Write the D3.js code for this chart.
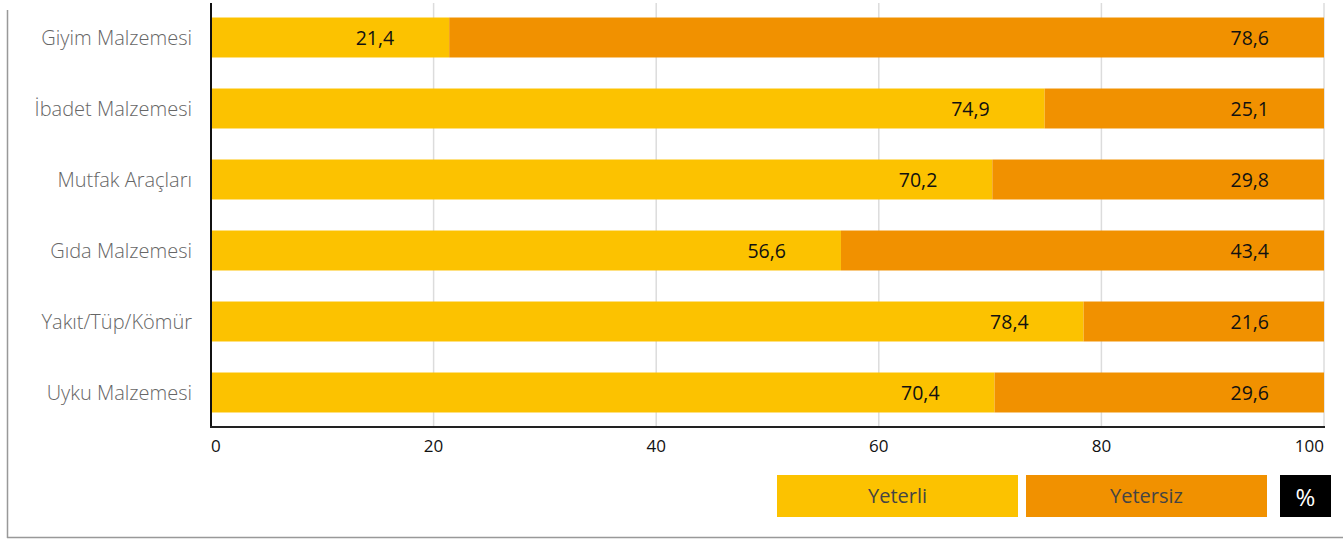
<!DOCTYPE html>
<html><head><meta charset="utf-8">
<script src="https://cdn.jsdelivr.net/npm/d3@7"></script>
<style>body{margin:0;background:#fff}svg{display:block}</style>
</head><body>
<script>
const categories = ["Giyim Malzemesi","İbadet Malzemesi","Mutfak Araçları","Gıda Malzemesi","Yakıt/Tüp/Kömür","Uyku Malzemesi"];
const yeterli = [21.4,74.9,70.2,56.6,78.4,70.4];
const yetersiz = [78.6,25.1,29.8,43.4,21.6,29.6];
const seriesNames = ["Yeterli","Yetersiz"];
const tickValues = [0,20,40,60,80,100];

const W=1343,H=540;
const colors=["#FCC200","#F19100"];
const svg=d3.select("body").append("svg").attr("width",W).attr("height",H);
const x=d3.scaleLinear().domain([0,100]).range([211,1324]);
const y=d3.scaleBand().domain(categories).range([2,428]).paddingInner(0.437).paddingOuter(0.2185);

// outer frame lines
svg.append("line").attr("x1",7.5).attr("x2",7.5).attr("y1",10).attr("y2",538).attr("stroke","#999").attr("stroke-width",1.5);
svg.append("line").attr("x1",7).attr("x2",W).attr("y1",537.5).attr("y2",537.5).attr("stroke","#999").attr("stroke-width",1.5);

// grid
svg.append("g").selectAll("line").data(tickValues.slice(1)).join("line")
  .attr("x1",d=>x(d)).attr("x2",d=>x(d)).attr("y1",3).attr("y2",427)
  .attr("stroke","#dcdcdc").attr("stroke-width",1.5);

const fmt=v=>String(v).replace(".",",");
const data=categories.map((c,i)=>({c,vals:[yeterli[i],yetersiz[i]]}));
const g=svg.append("g");
data.forEach(d=>{
  let acc=0;
  d.vals.forEach((v,k)=>{
    const x0=x(acc), x1=x(acc+v);
    g.append("rect").attr("x",x0).attr("y",y(d.c)).attr("width",x1-x0).attr("height",y.bandwidth()).attr("fill",colors[k]);
    g.append("text").attr("x",x1-55).attr("y",y(d.c)+y.bandwidth()/2).attr("dy","0.36em")
      .attr("text-anchor","end").attr("font-family","'Open Sans',sans-serif").attr("font-size",19.5).attr("fill","#111").text(fmt(v));
    acc+=v;
  });
});

// category labels
svg.append("g").selectAll("text").data(categories).join("text")
  .attr("x",192).attr("y",d=>y(d)+y.bandwidth()/2).attr("dy","0.36em").attr("text-anchor","end")
  .attr("font-family","'Open Sans',sans-serif").attr("font-weight",300).attr("font-size",20).attr("fill","#666").text(d=>d);

// axes lines
svg.append("line").attr("x1",211).attr("x2",211).attr("y1",3).attr("y2",428).attr("stroke","#111").attr("stroke-width",2);
svg.append("line").attr("x1",210).attr("x2",1325).attr("y1",427).attr("y2",427).attr("stroke","#222").attr("stroke-width",2);

// tick labels
svg.append("g").selectAll("text").data(tickValues).join("text")
  .attr("x",d=>x(d)).attr("y",446).attr("dy","0.36em")
  .attr("text-anchor",(d,i)=>i===0?"start":(i===tickValues.length-1?"end":"middle"))
  .attr("font-family","'Open Sans',sans-serif").attr("font-size",17).attr("fill","#111").text(d=>d);

// legend
const lx=[777,1026];
seriesNames.forEach((n,i)=>{
  svg.append("rect").attr("x",lx[i]).attr("y",475).attr("width",241).attr("height",42).attr("fill",colors[i]);
  svg.append("text").attr("x",lx[i]+120.5).attr("y",496).attr("dy","0.36em").attr("text-anchor","middle")
    .attr("font-family","'Open Sans',sans-serif").attr("font-size",20).attr("fill","#444").text(n);
});
svg.append("rect").attr("x",1280).attr("y",475).attr("width",51).attr("height",42).attr("fill","#000");
svg.append("text").attr("x",1305.5).attr("y",497).attr("dy","0.36em").attr("text-anchor","middle")
  .attr("font-family","'Open Sans',sans-serif").attr("font-size",24).attr("fill","#fff").text("%");
</script>
</body></html>
